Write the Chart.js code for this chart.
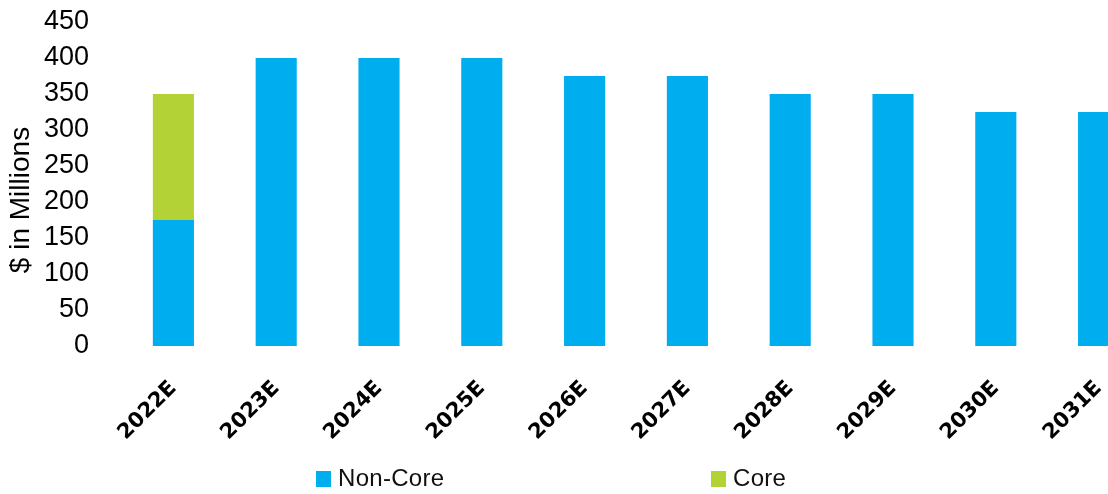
<!DOCTYPE html>
<html>
<head>
<meta charset="utf-8">
<script src="https://cdn.jsdelivr.net/npm/chart.js@4/dist/chart.umd.min.js"></script>
<style>
  body { margin: 0; overflow: hidden; background: #fff; }
  #wrap { position: relative; width: 1150px; height: 494px; }
  .ley { position: absolute; top: 464px; font: 24px "Liberation Sans", Arial, sans-serif; color: #111; letter-spacing: 0.3px; }
  .ley span { display: inline-block; width: 15px; height: 16px; vertical-align: -1px; margin-right: 7px; }
</style>
</head>
<body>
<div id="wrap">
  <canvas id="grafico" width="1150" height="494"></canvas>
  <div class="ley" style="left:316px"><span style="background:#00AEEF"></span>Non-Core</div>
  <div class="ley" style="left:711px"><span style="background:#B3D235"></span>Core</div>
</div>
<script>
// datos
const anios = ['2022E', '2023E', '2024E', '2025E', '2026E', '2027E', '2028E', '2029E', '2030E', '2031E'];
const noCore = [175, 400, 400, 400, 375, 375, 350, 350, 325, 325];
const core = [175, null, null, null, null, null, null, null, null, null];
const ticksY = [0, 50, 100, 150, 200, 250, 300, 350, 400, 450];
const tituloY = '$ in Millions';

const fuente = '"Liberation Sans", Arial, sans-serif';

var ctx = document.getElementById('grafico').getContext('2d');

// titulo del eje Y un poco mas abajo que el centro del eje
const tituloPlugin = {
    id: 'tituloY',
    afterDraw(chart) {
        const c = chart.ctx;
        c.save();
        c.translate(21, 200);
        c.rotate(-Math.PI / 2);
        c.font = '28px ' + fuente;
        c.fillStyle = '#000';
        c.textAlign = 'center';
        c.textBaseline = 'middle';
        c.fillText(tituloY, 0, 0);
        c.restore();
    }
};

var myChart = new Chart(ctx, {
    type: 'bar',
    data: {
        labels: anios,
        datasets: [{
            label: 'Non-Core',
            data: noCore,
            backgroundColor: '#00AEEF',
            categoryPercentage: 1,
            barPercentage: 0.4
        }, {
            label: 'Core',
            data: core,
            backgroundColor: '#B3D235',
            categoryPercentage: 1,
            barPercentage: 0.4
        }]
    },
    options: {
        responsive: false,
        animation: false,
        layout: { padding: { top: 22, left: 0, right: 0, bottom: 0 } },
        plugins: {
            legend: { display: false },
            tooltip: { enabled: false }
        },
        scales: {
            x: {
                stacked: true,
                grid: { display: false, drawTicks: false },
                border: { display: false },
                ticks: {
                    color: '#000',
                    font: { family: '"DejaVu Sans", sans-serif', size: 21, weight: 'bold' },
                    minRotation: 45,
                    maxRotation: 45,
                    autoSkip: false,
                    padding: 30
                },
                afterFit: function (scale) { scale.height = 148; }
            },
            y: {
                stacked: true,
                min: 0,
                max: 450,
                grid: { display: false, drawTicks: false },
                border: { display: false },
                afterBuildTicks: function (scale) {
                    scale.ticks = ticksY.map(v => ({ value: v }));
                },
                ticks: {
                    color: '#000',
                    font: { family: fuente, size: 27 },
                    autoSkip: false,
                    padding: 33
                },
                afterFit: function (scale) {
                    scale.width = 122;
                    // sin relleno extra arriba/abajo
                    scale.paddingTop = 0;
                    scale.paddingBottom = 0;
                }
            }
        }
    },
    plugins: [tituloPlugin]
});
</script>
</body>
</html>
